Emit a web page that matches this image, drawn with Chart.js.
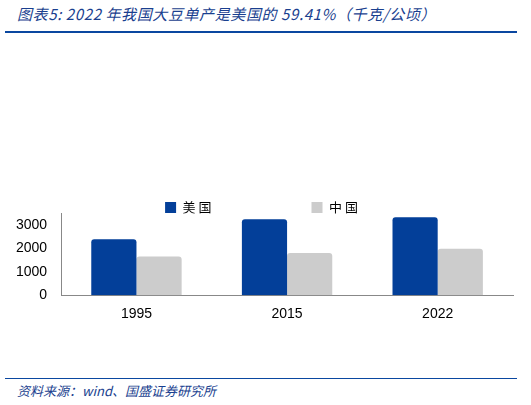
<!DOCTYPE html><html><head><meta charset="utf-8">
<script src="https://cdn.jsdelivr.net/npm/chart.js@4"></script>
<style>
body{margin:0;width:531px;height:405px;background:#fff;position:relative;font-family:"Noto Sans CJK SC",sans-serif;overflow:hidden}
#t{position:absolute;left:17px;top:3px;color:#1a3f8f;font-style:italic;font-size:15px;letter-spacing:0.6px}
#l1{position:absolute;left:5px;top:31px;width:512px;height:2px;background:#0a47a0}
#l2{position:absolute;left:5px;top:378px;width:512px;height:1px;background:#0a47a0}
#s{position:absolute;left:17px;top:381px;color:#1a3f8f;font-style:italic;font-size:13px}
#c{position:absolute;left:0;top:101px}
</style></head><body>
<div id="t">图表5:  2022 年我国大豆单产是美国的 59.41%（千克/公顷）</div>
<div id="l1"></div>
<canvas id="c" width="525" height="225"></canvas>
<div id="l2"></div>
<div id="s">资料来源：wind、国盛证券研究所</div>
<script>
const categories=["1995","2015","2022"];
const usValues=[2400,3250,3340];
const cnValues=[1660,1810,1985];
const yTicks=[0,500,1000,1500,2000,2500,3000,3500];
new Chart(document.getElementById('c'),{type:'bar',
data:{labels:categories,datasets:[
{label:'美国',data:usValues,backgroundColor:'#033f99',borderRadius:{topLeft:3,topRight:3},borderSkipped:'bottom'},
{label:'中国',data:cnValues,backgroundColor:'#cccccc',borderRadius:{topLeft:3,topRight:3},borderSkipped:'bottom'}]},
options:{responsive:false,animation:false,layout:{padding:{left:10,right:12}},
datasets:{bar:{categoryPercentage:0.6,barPercentage:1}},
plugins:{legend:{position:'top',labels:{boxWidth:11,boxHeight:11,padding:100,font:{size:13,family:'Noto Sans CJK SC'},color:'#000',generateLabels:c=>Chart.defaults.plugins.legend.labels.generateLabels(c).map(l=>(l.text=l.text.split('').join(' '),l))}},tooltip:{enabled:false}},
scales:{x:{grid:{display:false},border:{color:'#888'},ticks:{color:'#000',font:{size:14,family:'Liberation Sans'}}},
y:{min:0,max:3500,afterBuildTicks:a=>{a.ticks=yTicks.map(v=>({value:v}))},grid:{display:false,drawTicks:true},border:{color:'#888'},ticks:{color:'#000',padding:6,callback:v=>String(v),font:{size:14,family:'Liberation Sans'}}}}}});
</script></body></html>
